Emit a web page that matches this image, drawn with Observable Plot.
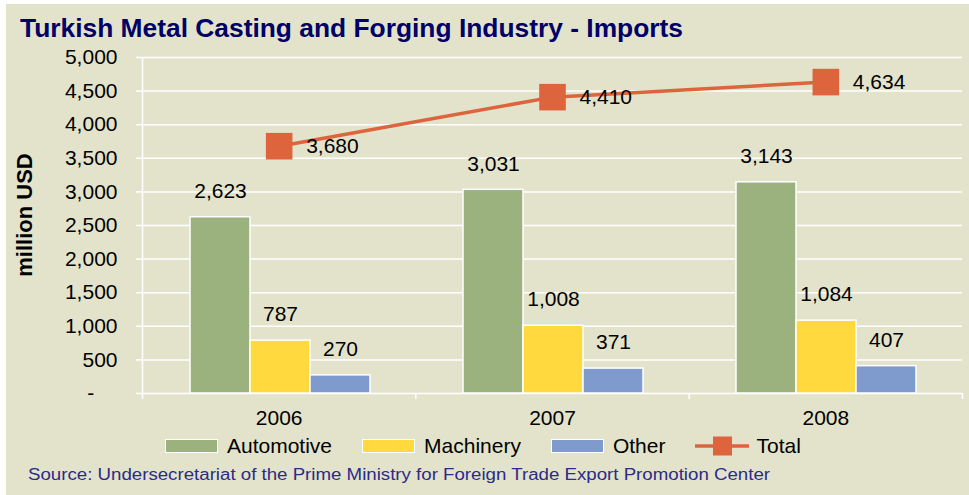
<!DOCTYPE html>
<html>
<head>
<meta charset="utf-8">
<script src="https://cdn.jsdelivr.net/npm/d3@7"></script>
<script src="https://cdn.jsdelivr.net/npm/@observablehq/plot@0.6"></script>
<style>
  html, body { margin: 0; padding: 0; background: #ffffff; }
  #wrap { position: relative; width: 969px; height: 495px; overflow: hidden; font-family: "Liberation Sans", Arial, sans-serif; }
  #bg { position: absolute; left: 6px; top: 4px; right: 0; bottom: 0; background: #E3E3CB; }
  #title { position: absolute; left: 20px; top: 16px; font-size: 25px; line-height: 1; font-weight: bold; color: #000066; white-space: nowrap; transform-origin: 0 0; }
  #ylabel { position: absolute; left: 25px; top: 215px; font-size: 22px; font-weight: bold; color: #000; white-space: nowrap; line-height: 1; transform: translate(-50%, -50%) rotate(-90deg); }
  .layer { position: absolute; left: 0; top: 48px; }
  #legend { position: absolute; left: 165px; top: 434px; height: 24px; display: flex; align-items: center; font-size: 21px; color: #000; white-space: nowrap; }
  .item { display: flex; align-items: center; margin-right: 30px; }
  .sw { width: 53px; height: 14px; box-sizing: border-box; border: 1.5px solid #fff; margin-right: 9px; }
  #source { position: absolute; left: 28px; top: 467px; font-size: 16px; line-height: 1; color: #2B2B88; white-space: nowrap; transform-origin: 0 0; }
</style>
</head>
<body>
<div id="wrap">
  <div id="bg"></div>
  <div id="title">Turkish Metal Casting and Forging Industry - Imports</div>
  <div id="ylabel">million USD</div>
  <div id="layer1" class="layer"></div>
  <div id="layer2" class="layer"></div>
  <div id="legend"></div>
  <div id="source">Source: Undersecretariat of the Prime Ministry for Foreign Trade Export Promotion Center</div>
</div>
<script>
// ---- data ----
const years = [2006, 2007, 2008];
const series = ["Automotive", "Machinery", "Other"];
const automotive = [2623, 3031, 3143];
const machinery = [787, 1008, 1084];
const other = [270, 371, 407];
const total = [3680, 4410, 4634];
const yTicks = [0, 500, 1000, 1500, 2000, 2500, 3000, 3500, 4000, 4500, 5000];
const seriesColors = ["#9BB27E", "#FFD93D", "#7F9BCD"];
const totalColor = "#DD643C";

const seriesValues = [automotive, machinery, other];
const bars = [];
years.forEach((yr, i) => series.forEach((s, j) => bars.push({year: yr, series: s, value: seriesValues[j][i]})));
const totals = years.map((yr, i) => ({year: yr, value: total[i]}));

const fmt = d3.format(",");
const fmtY = d => d === 0 ? "-\u2007\u2007" : fmt(d);

const W = 969, H = 385;
const M = {left: 142, right: 7, top: 9, bottom: 40};
const font = "'Liberation Sans', Arial, sans-serif";

// ---- layer 1: grid, grouped bars, bar labels ----
const p1 = Plot.plot({
  width: W, height: H,
  marginLeft: M.left, marginRight: M.right, marginTop: M.top, marginBottom: M.bottom,
  style: {background: "transparent", fontFamily: font, fontSize: "21px", overflow: "visible"},
  fx: {domain: years, padding: 0, axis: null},
  x: {domain: series, paddingInner: 0, paddingOuter: 0.755, axis: null},
  y: {domain: [0, 5000], axis: null},
  color: {domain: series, range: seriesColors},
  marks: [
    Plot.ruleY(yTicks, {stroke: "#ffffff", strokeWidth: 1.5}),
    Plot.barY(bars, {fx: "year", x: "series", y: "value", fill: "series", stroke: "#ffffff", strokeWidth: 1.5}),
    Plot.text(bars, {fx: "year", x: "series", y: "value", text: d => fmt(d.value), dy: -26, fontSize: 21, fill: "#000"})
  ]
});
document.getElementById("layer1").appendChild(p1);

// ---- layer 2: axes, total line ----
const x0 = years[0] - 0.5, x1 = years[years.length - 1] + 0.5;
const boundaries = d3.range(years.length + 1).map(i => x0 + i);
const p2 = Plot.plot({
  width: W, height: H,
  marginLeft: M.left, marginRight: M.right, marginTop: M.top, marginBottom: M.bottom,
  style: {background: "transparent", fontFamily: font, fontSize: "21px", overflow: "visible"},
  x: {type: "linear", domain: [x0, x1], axis: null},
  y: {domain: [0, 5000], axis: null},
  marks: [
    Plot.ruleX([x0], {stroke: "#ffffff", strokeWidth: 1.5}),
    Plot.axisX({ticks: boundaries, tickSize: 6, tickFormat: () => "", stroke: "#ffffff", strokeWidth: 1.5, label: null}),
    Plot.axisX({ticks: years, tickSize: 0, tickPadding: 17, tickFormat: d => String(d), fill: "#000", fontSize: 21, label: null}),
    Plot.axisY({ticks: yTicks, tickFormat: fmtY, tickSize: 6, tickPadding: 19, stroke: "#ffffff", strokeWidth: 1.5, fill: "#000", fontSize: 21, label: null}),
    Plot.line(totals, {x: "year", y: "value", stroke: totalColor, strokeWidth: 3.5}),
    Plot.dot(totals, {x: "year", y: "value", symbol: "square", r: 15, fill: totalColor, stroke: "none"}),
    Plot.text(totals, {x: "year", y: "value", text: d => fmt(d.value), dx: 27, textAnchor: "start", fontSize: 21, fill: "#000"})
  ]
});
document.getElementById("layer2").appendChild(p2);

// ---- legend ----
const legend = document.getElementById("legend");
series.forEach((s, j) => {
  const it = document.createElement("div");
  it.className = "item";
  const sw = document.createElement("div");
  sw.className = "sw";
  sw.style.background = seriesColors[j];
  const tx = document.createElement("span");
  tx.textContent = s;
  it.appendChild(sw); it.appendChild(tx);
  legend.appendChild(it);
});
{
  const it = document.createElement("div");
  it.className = "item";
  it.innerHTML = `<svg width="54" height="20" style="margin-right:7px"><line x1="0" y1="10" x2="54" y2="10" stroke="${totalColor}" stroke-width="3.5"/><rect x="18" y="0.5" width="19" height="19" fill="${totalColor}"/></svg><span>Total</span>`;
  legend.appendChild(it);
}

// ---- fit condensed-looking text widths ----
function fitWidth(id, target) {
  const el = document.getElementById(id);
  const w = el.getBoundingClientRect().width;
  if (w > 0) el.style.transform = `scaleX(${target / w})`;
}
fitWidth("title", 663);
fitWidth("source", 742);
</script>
</body>
</html>
